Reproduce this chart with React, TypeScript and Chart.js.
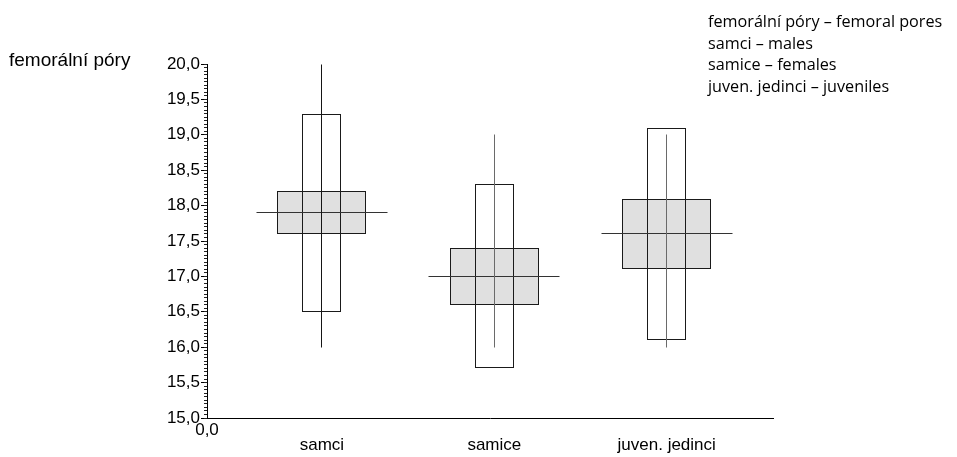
import React, { useEffect, useRef } from "react";
import { Chart, registerables } from "chart.js";

Chart.register(...registerables);

// ---- data ----
const categories = ["samci", "samice", "juven. jedinci"];
const categoryX = [2, 5, 8];
const minValues = [16.0, 16.0, 16.0];
const maxValues = [20.0, 19.0, 19.0];
const outerLow = [16.5, 15.7, 16.1];
const outerHigh = [19.3, 18.3, 19.1];
const innerLow = [17.6, 16.6, 17.1];
const innerHigh = [18.2, 17.4, 18.1];
const means = [17.9, 17.0, 17.6];
const yAxisTitle = "femorální póry";
const xOriginLabel = "0,0";
const noteLines = [
  "femorální póry – femoral pores",
  "samci – males",
  "samice – females",
  "juven. jedinci – juveniles",
];

// ---- styles ----
const MEAN_HALF_WIDTH = 1.14; // in x-axis units
const AXIS_FONT = "'Liberation Sans', Arial, sans-serif";
const rangeColors = ["#151515", "#6a6a6a", "#6a6a6a"];

// snap rendered marks onto the pixel grid so 1px strokes stay crisp
const pixelSnap = {
  id: "pixelSnap",
  beforeDatasetsDraw(chart: any) {
    chart.data.datasets.forEach((_ds: any, i: number) => {
      const meta = chart.getDatasetMeta(i);
      if (meta.type === "bar") {
        meta.data.forEach((el: any) => {
          const w = Math.round(el.width);
          const left = Math.round(el.x - w / 2);
          el.width = w;
          el.x = left + w / 2;
          el.y = Math.round(el.y);
          el.base = Math.round(el.base);
        });
      } else {
        meta.data.forEach((pt: any) => {
          if (!pt.skip && isFinite(pt.x) && isFinite(pt.y)) {
            pt.x = Math.floor(pt.x) + 0.5;
            pt.y = Math.floor(pt.y) + 0.5;
          }
        });
      }
    });
  },
};

export default function App() {
  const canvasRef = useRef<HTMLCanvasElement | null>(null);

  useEffect(() => {
    const canvas = canvasRef.current;
    if (!canvas) return;

    const rangePoints = categoryX.flatMap((x, i) => [
      { x, y: minValues[i] },
      { x, y: maxValues[i] },
      { x, y: null },
    ]);
    const meanPoints = categoryX.flatMap((x, i) => [
      { x: x - MEAN_HALF_WIDTH, y: means[i] },
      { x: x + MEAN_HALF_WIDTH, y: means[i] },
      { x: x + MEAN_HALF_WIDTH + 0.01, y: null },
    ]);
    const outerBars = categoryX.map((x, i) => ({ x, y: [outerLow[i], outerHigh[i]] }));
    const innerBars = categoryX.map((x, i) => ({ x, y: [innerLow[i], innerHigh[i]] }));

    const chart = new Chart(canvas, {
      type: "bar",
      data: {
        datasets: [
          {
            type: "line",
            label: "range",
            data: rangePoints as any,
            borderColor: "#3a3a3a",
            borderWidth: 1,
            pointRadius: 0,
            spanGaps: false,
            segment: {
              borderColor: (ctx: any) => rangeColors[Math.floor(ctx.p0DataIndex / 3)] || "#3a3a3a",
            },
            order: 1,
          } as any,
          {
            type: "line",
            label: "mean",
            data: meanPoints as any,
            borderColor: "#333333",
            borderWidth: 1,
            pointRadius: 0,
            spanGaps: false,
            order: 1,
          } as any,
          {
            type: "bar",
            label: "outer",
            data: outerBars as any,
            backgroundColor: "rgba(255,255,255,0)",
            borderColor: "#1a1a1a",
            borderWidth: 1,
            borderSkipped: false,
            inflateAmount: 0,
            barThickness: 39,
            grouped: false,
            order: 2,
          } as any,
          {
            type: "bar",
            label: "inner",
            data: innerBars as any,
            backgroundColor: "#e0e0e0",
            borderColor: "#1a1a1a",
            borderWidth: 1,
            borderSkipped: false,
            inflateAmount: 0,
            barThickness: 89,
            grouped: false,
            order: 3,
          } as any,
        ],
      },
      options: {
        animation: false,
        responsive: false,
        maintainAspectRatio: false,
        events: [],
        layout: { padding: { left: 157, top: 64, right: 184, bottom: 0 } },
        plugins: {
          legend: { display: false },
          tooltip: { enabled: false },
          title: { display: false },
        },
        scales: {
          x: {
            type: "linear",
            min: 0,
            max: 9.85,
            offset: false,
            afterBuildTicks: (s: any) => {
              s.ticks = [{ value: 0 }, ...categoryX.map((v) => ({ value: v }))];
            },
            afterFit: (s: any) => {
              s.height = 39;
            },
            ticks: {
              autoSkip: false,
              maxRotation: 0,
              minRotation: 0,
              padding: 2,
              color: "#000",
              font: (ctx: any) => ({
                family: AXIS_FONT,
                size: 17,
                lineHeight: ctx.tick && ctx.tick.value === 0 ? 1.2 : 1.0,
              }),
              callback: (v: any) => {
                const idx = categoryX.indexOf(Number(v));
                if (idx < 0) return xOriginLabel;
                return ["", categories[idx]];
              },
            },
            grid: { drawOnChartArea: false, drawTicks: false, offset: false },
            border: { color: "#000", width: 1 },
          } as any,
          y: {
            type: "linear",
            position: "left",
            min: 15,
            max: 20,
            afterFit: (s: any) => {
              s.width = 50;
            },
            ticks: {
              stepSize: 0.5,
              padding: 1,
              color: "#000",
              font: { family: AXIS_FONT, size: 17 },
              callback: (v: any) => Number(v).toFixed(1).replace(".", ","),
            },
            grid: { drawOnChartArea: false, tickLength: 6, tickColor: "#000" },
            border: { color: "#000", width: 1 },
          } as any,
          yMinor: {
            type: "linear",
            axis: "y",
            position: { x: 0 },
            min: 15,
            max: 20,
            ticks: { stepSize: 0.05, display: false },
            grid: { drawOnChartArea: false, tickLength: 3, tickColor: "#222" },
            border: { display: false },
          } as any,
        },
      } as any,
      plugins: [pixelSnap as any],
    });

    return () => {
      chart.destroy();
    };
  }, []);

  return (
    <div
      style={{
        position: "absolute",
        left: 0,
        top: 0,
        width: 957,
        height: 457,
        background: "#fff",
        overflow: "hidden",
      }}
    >
      <canvas ref={canvasRef} width={957} height={457} style={{ display: "block" }} />
      <div
        style={{
          position: "absolute",
          left: 9,
          top: 49,
          fontFamily: AXIS_FONT,
          fontSize: 19,
          lineHeight: "22px",
          color: "#000",
          whiteSpace: "nowrap",
        }}
      >
        {yAxisTitle}
      </div>
      <div
        style={{
          position: "absolute",
          left: 708,
          top: 11,
          fontFamily: "'Open Sans', 'Noto Sans', sans-serif",
          fontSize: 16.2,
          lineHeight: "21.7px",
          color: "#000",
          whiteSpace: "nowrap",
        }}
      >
        {noteLines.map((t) => (
          <div key={t}>{t}</div>
        ))}
      </div>
    </div>
  );
}
